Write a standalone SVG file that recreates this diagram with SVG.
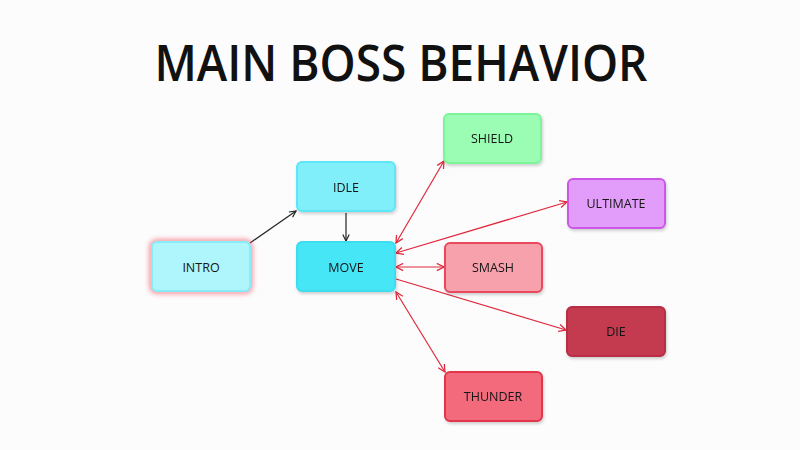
<svg xmlns="http://www.w3.org/2000/svg" width="800" height="450" viewBox="0 0 800 450">
<defs>
<style>
.node rect.box{stroke-width:2}
.lbl{font-family:"Open Sans","Liberation Sans",sans-serif;font-size:12.5px;font-weight:500;fill:#151515;text-anchor:middle;dominant-baseline:central}
.title{font-family:"Open Sans","Liberation Sans",sans-serif;font-size:50px;font-weight:600;fill:#111;text-anchor:middle}
.blk{stroke:#222;stroke-width:1.2;fill:none}
.red{stroke:#e0283c;stroke-width:1.2;fill:none}
</style>
<marker id="ab" viewBox="0 0 10 10" refX="9" refY="5" markerWidth="8" markerHeight="8" markerUnits="userSpaceOnUse" orient="auto-start-reverse">
<path d="M1,1 L9,5 L1,9" fill="none" stroke="#222" stroke-width="1.5"/>
</marker>
<marker id="ar" viewBox="0 0 10 10" refX="9" refY="5" markerWidth="9" markerHeight="9" markerUnits="userSpaceOnUse" orient="auto-start-reverse">
<path d="M1,1 L9,5 L1,9" fill="none" stroke="#e0283c" stroke-width="1.4"/>
</marker>
<filter id="sh" x="-20%" y="-20%" width="140%" height="150%">
<feDropShadow dx="1" dy="2" stdDeviation="1.5" flood-color="#000" flood-opacity="0.18"/>
</filter>
<filter id="glow" x="-30%" y="-40%" width="160%" height="180%">
<feGaussianBlur stdDeviation="2.5"/>
</filter>
</defs>
<rect width="800" height="450" fill="#fcfcfc"/>
<text class="title" x="401" y="81" textLength="493" lengthAdjust="spacingAndGlyphs">MAIN BOSS BEHAVIOR</text>

<g id="connectors">
<line class="blk" x1="250" y1="243" x2="296" y2="211" marker-end="url(#ab)"/>
<line class="blk" x1="346" y1="213" x2="346" y2="241" marker-end="url(#ab)"/>
<line class="red" x1="396" y1="243" x2="444" y2="161" marker-start="url(#ar)" marker-end="url(#ar)"/>
<line class="red" x1="396" y1="253" x2="567" y2="202" marker-start="url(#ar)" marker-end="url(#ar)"/>
<line class="red" x1="396" y1="267" x2="444" y2="267" marker-start="url(#ar)" marker-end="url(#ar)"/>
<line class="red" x1="396" y1="279" x2="566" y2="330" marker-end="url(#ar)"/>
<line class="red" x1="396" y1="292" x2="445" y2="372" marker-start="url(#ar)" marker-end="url(#ar)"/>
</g>

<g id="intro" class="node">
<rect x="152" y="242" width="98" height="49" rx="5" fill="none" stroke="#f4707f" stroke-width="6" opacity="0.7" filter="url(#glow)"/>
<rect class="box" x="152" y="242" width="98" height="49" rx="5" fill="#aef6fc" stroke="#86ecf8"/>
<text class="lbl" x="201" y="267">INTRO</text>
</g>
<g id="idle" class="node" filter="url(#sh)">
<rect class="box" x="297" y="162" width="98" height="49" rx="5" fill="#80eff9" stroke="#5be6f6"/>
<text class="lbl" x="346" y="187">IDLE</text>
</g>
<g id="move" class="node" filter="url(#sh)">
<rect class="box" x="297" y="242" width="98" height="49" rx="5" fill="#46e6f7" stroke="#3cdcef"/>
<text class="lbl" x="346" y="267">MOVE</text>
</g>
<g id="shield" class="node" filter="url(#sh)">
<rect class="box" x="444" y="114" width="97" height="49" rx="5" fill="#9bfdb3" stroke="#7ef49a"/>
<text class="lbl" x="492" y="138">SHIELD</text>
</g>
<g id="ultimate" class="node" filter="url(#sh)">
<rect class="box" x="568" y="179" width="97" height="49" rx="5" fill="#e19df9" stroke="#cc57e7"/>
<text class="lbl" x="616" y="203">ULTIMATE</text>
</g>
<g id="smash" class="node" filter="url(#sh)">
<rect class="box" x="445" y="243" width="97" height="49" rx="5" fill="#f7a1ac" stroke="#e9485f"/>
<text class="lbl" x="493" y="267">SMASH</text>
</g>
<g id="die" class="node" filter="url(#sh)">
<rect class="box" x="567" y="307" width="98" height="49" rx="5" fill="#c43a50" stroke="#b82e45"/>
<text class="lbl" x="616" y="331">DIE</text>
</g>
<g id="thunder" class="node" filter="url(#sh)">
<rect class="box" x="445" y="372" width="97" height="49" rx="5" fill="#f36b7d" stroke="#e23448"/>
<text class="lbl" x="493" y="396">THUNDER</text>
</g>
</svg>
